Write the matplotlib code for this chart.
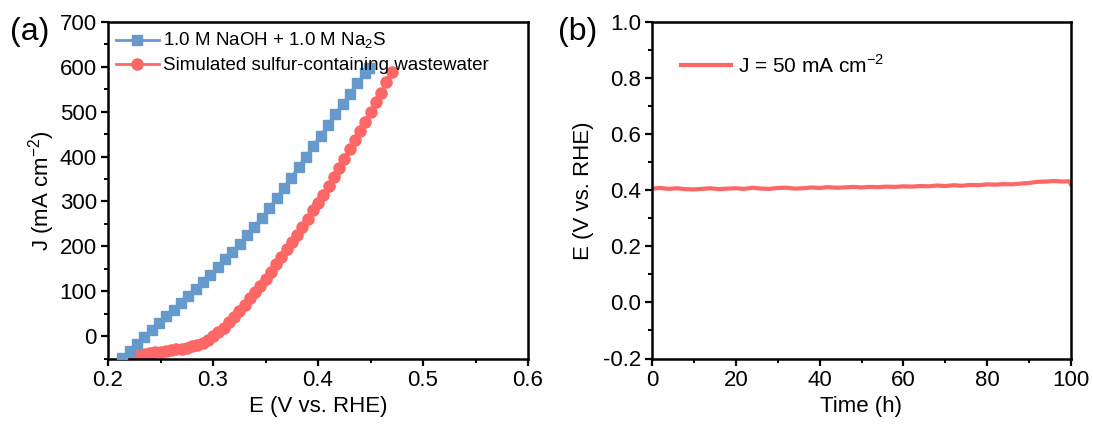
import matplotlib
matplotlib.use("Agg")
import matplotlib.pyplot as plt
from matplotlib.ticker import MultipleLocator

plt.rcParams['font.family'] = ['Liberation Sans', 'DejaVu Sans']
plt.rcParams['mathtext.fontset'] = 'custom'
plt.rcParams['mathtext.rm'] = 'Liberation Sans'
plt.rcParams['axes.unicode_minus'] = False

# ---- panel (a) data ----
blue_E = [0.2135, 0.2205, 0.2275, 0.2345, 0.2415, 0.2485, 0.2555, 0.2625, 0.2695, 0.2765,
          0.2835, 0.2905, 0.2975, 0.3045, 0.3115, 0.3185, 0.3255, 0.3325, 0.3395, 0.3465,
          0.3535, 0.3605, 0.3675, 0.3745, 0.3815, 0.3885, 0.3955, 0.4025, 0.4095, 0.4165,
          0.4235, 0.4305, 0.4375, 0.4445, 0.449]
blue_J = [-49, -33, -17, -1, 14, 29, 44, 59, 74, 89,
          105, 121, 137, 154, 171, 188, 206, 225, 244, 264,
          285, 307, 330, 353, 377, 400, 424, 447, 471, 494,
          517, 540, 563, 586, 598]

red_E = [0.215, 0.220, 0.225, 0.230, 0.235, 0.240, 0.245, 0.250, 0.255, 0.260,
         0.265, 0.270, 0.275, 0.280, 0.285, 0.290, 0.295, 0.300, 0.305, 0.310,
         0.315, 0.320, 0.325, 0.330, 0.335, 0.340, 0.345, 0.350, 0.355, 0.360,
         0.365, 0.370, 0.375, 0.380, 0.385, 0.390, 0.395, 0.400, 0.405, 0.410,
         0.415, 0.420, 0.425, 0.430, 0.435, 0.440, 0.445, 0.450, 0.455, 0.460,
         0.465, 0.470]
red_J = [-50, -47, -45, -42, -40, -38, -36, -35, -33, -31,
         -29, -28, -26, -23, -20, -15, -8, 0, 8, 19,
         31, 43, 56, 70, 84, 98, 112, 127, 143, 160,
         176, 193, 209, 225, 243, 261, 280, 297, 315, 334,
         354, 374, 395, 416, 437, 457, 478, 500, 521, 542,
         566, 588]

# ---- panel (b) data ----
time_h = [0, 2, 4, 6, 8, 10, 12, 14, 16, 18, 20, 22, 24, 26, 28, 30, 32, 34, 36, 38,
          40, 42, 44, 46, 48, 50, 52, 54, 56, 58, 60, 62, 64, 66, 68, 70, 72, 74, 76, 78,
          80, 82, 84, 86, 88, 90, 92, 94, 96, 98, 99.5, 100]
potential = [0.406, 0.408, 0.405, 0.407, 0.404, 0.403, 0.405, 0.407, 0.404, 0.406,
             0.407, 0.405, 0.409, 0.406, 0.405, 0.408, 0.409, 0.406, 0.407, 0.410,
             0.408, 0.411, 0.409, 0.410, 0.412, 0.410, 0.412, 0.411, 0.413, 0.412,
             0.414, 0.413, 0.415, 0.414, 0.417, 0.415, 0.418, 0.416, 0.419, 0.418,
             0.421, 0.420, 0.422, 0.421, 0.424, 0.426, 0.430, 0.431, 0.433, 0.431,
             0.432, 0.420]

blue_c = '#6699CC'
red_c = '#FF6666'

fig = plt.figure(figsize=(10.93, 4.30), dpi=100)
ax1 = fig.add_axes([108/1093, 1-358.5/430, (528-108)/1093, (358.5-22)/430])
ax2 = fig.add_axes([652/1093, 1-358.5/430, (1071-652)/1093, (358.5-22)/430])

fs = 16
for ax in (ax1, ax2):
    for s in ax.spines.values():
        s.set_linewidth(1.8)
    ax.tick_params(which='major', direction='out', length=5, width=1.6, labelsize=fs,
                   top=False, right=False, pad=3)
    ax.tick_params(which='minor', direction='out', length=3, width=1.4, top=False, right=False)

ax1.plot(blue_E, blue_J, color=blue_c, marker='s', markersize=7.2, lw=2,
         label='1.0 M NaOH + 1.0 M Na$_2$S', zorder=3)
ax1.plot(red_E, red_J, color=red_c, marker='o', markersize=8, lw=2,
         label='Simulated sulfur-containing wastewater', zorder=2)
ax1.set_xlim(0.2, 0.6)
ax1.set_ylim(-50, 700)
ax1.xaxis.set_minor_locator(MultipleLocator(0.05))
ax1.yaxis.set_minor_locator(MultipleLocator(50))
ax1.set_xticks([0.2, 0.3, 0.4, 0.5, 0.6])
ax1.set_xticklabels(['0.2', '0.3', '0.4', '0.5', '0.6'])
ax1.set_yticks([0, 100, 200, 300, 400, 500, 600, 700])
ax1.set_xlabel('E (V vs. RHE)', fontsize=fs, labelpad=4)
ax1.set_ylabel('J (mA cm$^{-2}$)', fontsize=fs, labelpad=2)
ax1.legend(loc='upper left', frameon=False, fontsize=13.5, handlelength=2.3,
           handletextpad=0.25, borderaxespad=0.0, labelspacing=0.3,
           bbox_to_anchor=(0.0, 0.995))

ax2.plot(time_h, potential, color=red_c, lw=3, label='J = 50 mA cm$^{-2}$')
ax2.set_xlim(0, 100)
ax2.set_ylim(-0.2, 1.0)
ax2.xaxis.set_minor_locator(MultipleLocator(10))
ax2.yaxis.set_minor_locator(MultipleLocator(0.1))
ax2.set_xticks([0, 20, 40, 60, 80, 100])
ax2.set_yticks([-0.2, 0.0, 0.2, 0.4, 0.6, 0.8, 1.0])
ax2.set_yticklabels(['-0.2', '0.0', '0.2', '0.4', '0.6', '0.8', '1.0'])
ax2.set_xlabel('Time (h)', fontsize=fs, labelpad=4)
ax2.set_ylabel('E (V vs. RHE)', fontsize=fs, labelpad=6)
ax2.legend(loc='upper left', frameon=False, fontsize=15, handlelength=2.4,
           handletextpad=0.3, borderaxespad=0.0, bbox_to_anchor=(0.05, 0.93))

fig.text(10/1093, 1-32/430, '(a)', fontsize=23, va='center', ha='left')
fig.text(558/1093, 1-32/430, '(b)', fontsize=23, va='center', ha='left')

fig.savefig('out.png', dpi=100)
